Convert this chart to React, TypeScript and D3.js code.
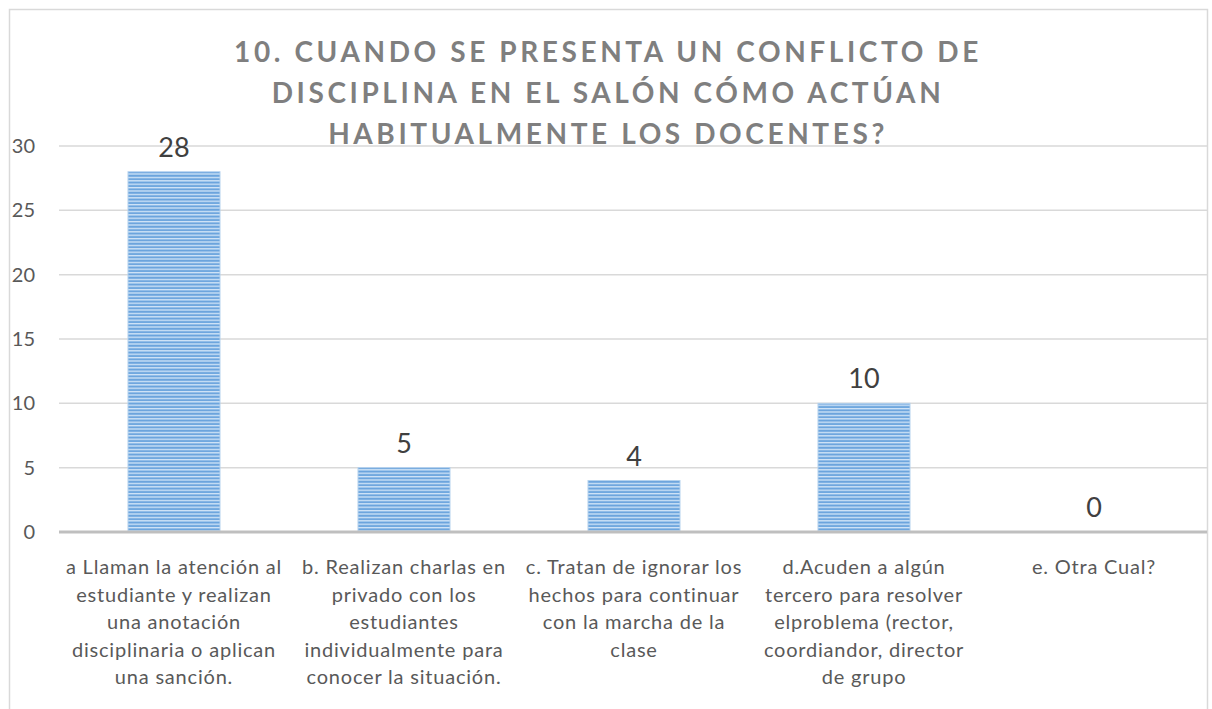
import React from "react";
import * as d3 from "d3";

const categories: string[][] = [
  ["a Llaman la atención al", "estudiante y realizan", "una anotación", "disciplinaria o aplican", "una sanción."],
  ["b. Realizan charlas en", "privado con los", "estudiantes", "individualmente para", "conocer la situación."],
  ["c. Tratan de ignorar los", "hechos para continuar", "con la marcha de la", "clase"],
  ["d.Acuden a algún", "tercero para resolver", "elproblema (rector,", "coordiandor, director", "de grupo"],
  ["e. Otra Cual?"],
];
const values: number[] = [28, 5, 4, 10, 0];
const yTicks: number[] = [0, 5, 10, 15, 20, 25, 30];
const titleLines: string[] = [
  "10. CUANDO SE PRESENTA UN CONFLICTO DE",
  "DISCIPLINA EN EL SALÓN CÓMO ACTÚAN",
  "HABITUALMENTE LOS DOCENTES?",
];

const W = 1212;
const H = 709;
const FONT = "Lato, 'Open Sans', sans-serif";

export default function App() {
  const x = d3.scaleBand<number>().domain(values.map((_, i) => i)).range([59, 1209]).paddingInner(0.6).paddingOuter(0.3);
  const y = d3.scaleLinear().domain([0, 30]).range([532, 146]);

  return (
    <svg width={W} height={H} style={{ position: "absolute", left: 0, top: 0, background: "#fff" }} fontFamily={FONT}>
      <defs>
        <pattern id="stripes" width="8" height="3.4" patternUnits="userSpaceOnUse">
          <rect width="8" height="3.4" fill="#7fb2e5" />
          <rect y="0" width="8" height="1.2" fill="#d2e5f7" />
          <rect y="2.0" width="8" height="0.9" fill="#5e9bd8" />
        </pattern>
      </defs>
      <rect x={9.5} y={9.5} width={1198} height={H + 20} fill="#fff" stroke="#d9d9d9" strokeWidth={1.5} />
      {yTicks.filter((t) => t > 0).map((t) => (
        <line key={t} x1={59} x2={1207} y1={y(t)} y2={y(t)} stroke="#d9d9d9" strokeWidth={1.5} />
      ))}
      {yTicks.map((t) => (
        <text key={"l" + t} x={35} y={y(t) + 7} textAnchor="end" fontSize={20} fill="#595959">{t}</text>
      ))}
      {values.map((v, i) => (
        <rect key={"b" + i} x={x(i)} y={y(v)} width={x.bandwidth()} height={y(0) - y(v)} fill="url(#stripes)" stroke="#b3d1ee" strokeWidth={1} />
      ))}
      <line x1={59} x2={1207} y1={y(0)} y2={y(0)} stroke="#bfbfbf" strokeWidth={3} />
      {values.map((v, i) => (
        <text key={"v" + i} x={(x(i) as number) + x.bandwidth() / 2} y={y(v) - 15} textAnchor="middle" fontSize={27} fill="#404040">{v}</text>
      ))}
      {categories.map((lines, i) => (
        <text key={"c" + i} textAnchor="middle" fontSize={20} fill="#595959" letterSpacing={0.8}>
          {lines.map((ln, j) => (
            <tspan key={j} x={(x(i) as number) + x.bandwidth() / 2} y={574 + j * 27.6}>{ln}</tspan>
          ))}
        </text>
      ))}
      {titleLines.map((ln, j) => (
        <text key={"t" + j} x={608} y={62 + j * 41} textAnchor="middle" fontSize={28} fontWeight="bold" fill="#7f7f7f" letterSpacing={3.6}>{ln}</text>
      ))}
    </svg>
  );
}
